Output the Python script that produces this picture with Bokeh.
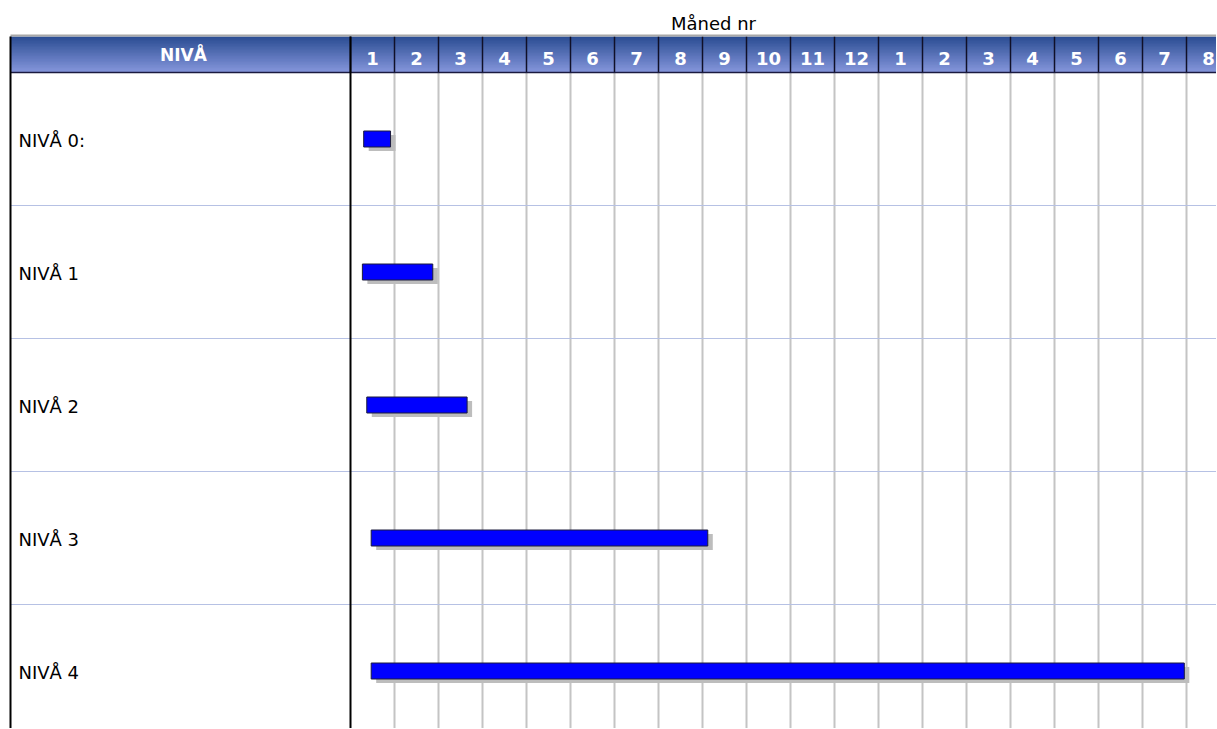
from bokeh.plotting import figure
from bokeh.models import Range1d
from bokeh.core.properties import value
from bokeh.embed import file_html
from bokeh.resources import INLINE

# ---------------- data ----------------
levels = ["NIVÅ 0:", "NIVÅ 1", "NIVÅ 2", "NIVÅ 3", "NIVÅ 4"]
start_month = [0.30, 0.27, 0.37, 0.47, 0.47]
end_month = [0.91, 1.87, 2.65, 8.12, 18.95]
month_labels = ["1", "2", "3", "4", "5", "6", "7", "8", "9", "10", "11", "12",
                "1", "2", "3", "4", "5", "6", "7", "8"]
header_left = "NIVÅ"
x_title = "Måned nr"

# ---------------- layout (reference pixels) ----------------
W, H = 1216, 728
X0, COL = 350.0, 44.0      # pixel of month 0, pixels per month
Y0, ROW = 72.0, 133.0      # pixel of body top, pixels per row


def mx(px):
    return (px - X0) / COL


def ry(py):
    return (py - Y0) / ROW


p = figure(width=W, height=H, output_backend="svg", toolbar_location=None,
           x_range=Range1d(mx(0), mx(W)), y_range=Range1d(ry(H), ry(0)),
           min_border=0, outline_line_color=None, background_fill_color="white",
           border_fill_color="white")
p.axis.visible = False
p.grid.visible = False

n_cols = len(month_labels)
n_rows = len(levels)
left_edge = mx(10)
right_edge = mx(1400)
head_top = ry(36)
head_bot = ry(72)
bottom = ry(900)

# header gradient (overlapping bands to avoid seams)
top_c = (44, 78, 148)
bot_c = (132, 149, 218)
NB = 24
lefts, rights, tops, bots, cols = [], [], [], [], []
step = (head_bot - head_top) / NB
for i in range(NB):
    t = i / (NB - 1)
    c = tuple(int(round(top_c[k] + (bot_c[k] - top_c[k]) * t)) for k in range(3))
    lefts.append(left_edge)
    rights.append(right_edge)
    tops.append(head_top + step * i)
    bots.append(min(head_top + step * (i + 2), head_bot))
    cols.append("#%02x%02x%02x" % c)
p.quad(left=lefts, right=rights, top=tops, bottom=bots, fill_color=cols, line_color=None)

# body vertical month lines
ks = list(range(1, n_cols + 1))
p.segment(x0=ks, x1=ks, y0=[head_bot] * len(ks), y1=[bottom] * len(ks),
          line_color="#c4c4c4", line_width=2)
# header dividers
ks2 = list(range(0, n_cols + 1))
p.segment(x0=ks2, x1=ks2, y0=[head_top] * len(ks2), y1=[head_bot] * len(ks2),
          line_color="#101028", line_width=1.5)
# horizontal row lines
rs = list(range(1, n_rows + 1))
p.segment(x0=[left_edge] * len(rs), x1=[right_edge] * len(rs), y0=rs, y1=rs,
          line_color="#b6c1e4", line_width=1)
# header top gray line and bottom dark line
p.segment(x0=[left_edge], x1=[right_edge], y0=[ry(35)], y1=[ry(35)],
          line_color="#a8a8a8", line_width=2)
p.segment(x0=[left_edge], x1=[right_edge], y0=[head_bot], y1=[head_bot],
          line_color="#1a1a40", line_width=1.5)
# black vertical lines: left border and label/month divider
p.segment(x0=[left_edge, 0], x1=[left_edge, 0], y0=[head_top, head_top], y1=[bottom, bottom],
          line_color="black", line_width=2)

# bars with shadow
ycent = [r + 0.5 for r in range(n_rows)]
bh = 16.0 / ROW
dx = 5.0 / COL
dy = 4.0 / ROW
p.hbar(y=[y + dy for y in ycent], left=[s + dx for s in start_month],
       right=[e + dx for e in end_month], height=bh,
       fill_color="#bdbdbd", line_color=None)
p.hbar(y=ycent, left=start_month, right=end_month, height=bh,
       fill_color="#0000ff", line_color="#1c1c3c", line_width=1)

# texts
p.text(x=[mx(18)] * n_rows, y=[y + 1.0 / ROW for y in ycent], text=levels,
       text_font=value("DejaVu Sans"), text_font_size="18px",
       text_align="left", text_baseline="middle", text_color="black")
p.text(x=[k + 0.5 for k in range(n_cols)], y=[ry(58)] * n_cols, text=month_labels,
       text_font=value("DejaVu Sans"), text_font_style="bold", text_font_size="18px",
       text_align="center", text_baseline="middle", text_color="white")
p.text(x=[mx(183)], y=[ry(54)], text=[header_left],
       text_font=value("DejaVu Sans"), text_font_style="bold", text_font_size="17px",
       text_align="center", text_baseline="middle", text_color="white")
p.text(x=[mx(713)], y=[ry(23)], text=[x_title],
       text_font=value("DejaVu Sans"), text_font_size="18px",
       text_align="center", text_baseline="middle", text_color="black")

open("out.html", "w").write(file_html(p, INLINE))
